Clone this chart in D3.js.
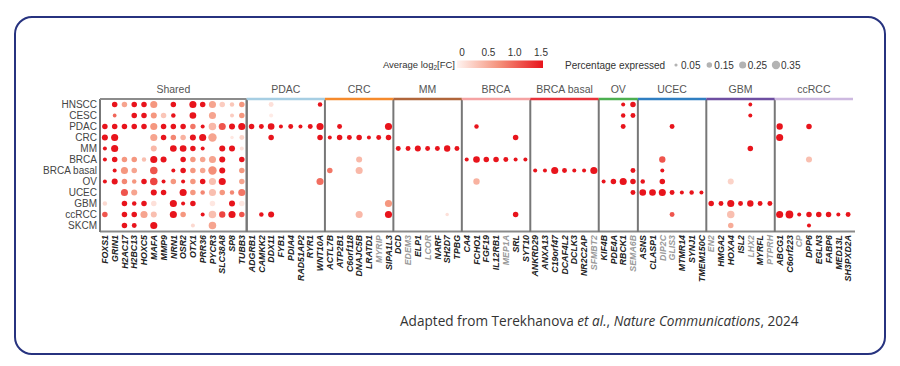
<!DOCTYPE html>
<html>
<head>
<meta charset="utf-8">
<script src="https://cdn.jsdelivr.net/npm/d3@7"></script>
<style>
  html,body{margin:0;padding:0;background:#fff;}
  svg{display:block;}
  text{font-family:"Liberation Sans",Arial,sans-serif;}
</style>
</head>
<body>
<svg id="chart" width="900" height="366"></svg>
<script>
// rows (tumour types), top to bottom
const rows = ['HNSCC','CESC','PDAC','CRC','MM','BRCA','BRCA basal','OV','UCEC','GBM','ccRCC','SKCM'];

// panels: name, genes, colour of the top bar
const panelNames  = ['Shared','PDAC','CRC','MM','BRCA','BRCA basal','OV','UCEC','GBM','ccRCC'];
const panelColors = ['#8c8c8c','#a6cee3','#f58a2c','#b0653a','#f5a3a3','#e8333b','#4caf50','#2f7ec1','#6e4ea1','#cdb9e0'];
const panelGenes = [
  ['FOXS1','GRIN1','H2AC17','H2BC13','HOXC5','MAFA','MMP9','NRN1','OSR2','OTX1','PRR36','PYCR3','SLC38A8','SP8','TUBB3'],
  ['ADGRB1','CAMKK2','DDX11','FYB1','PDIA4','RAD51AP2','RYR1','WNT10A'],
  ['ACTL7B','ATP2B1','C6orf118','DNAJC5B','LRATD1','MYRIP','SIPA1L3'],
  ['DCD','EDEM3','ELP1','LCOR','NARF','SH2D7','TPBG'],
  ['CA4','FCHO1','FGF19','IL12RB1','MEP1A','SRL','SYT10'],
  ['ANKRD29','ANXA13','C19orf47','DCAF4L2','DCLK3','NR2C2AP','SFMBT2'],
  ['KIF4B','PDE4A','RBCK1','SEMA6B'],
  ['ASNS','CLASP1','DIP2C','GLIS3','MTMR14','SYNJ1','TMEM150C'],
  ['EN2','HMGA2','HOXA4','ISL2','LHX2','MYRFL','PTPRH'],
  ['ABCG1','C6orf223','CP','DPP6','EGLN3','FABP6','MED13L','SH3PXD2A']
];
// genes printed in grey
const greyGenes = ['MYRIP','EDEM3','LCOR','MEP1A','SFMBT2','SEMA6B','DIP2C','GLIS3','EN2','LHX2','PTPRH','CP'];

// legend values
const fcTicks  = [0, 0.5, 1.0, 1.5];
const pctTicks = [0.05, 0.15, 0.25, 0.35];

// dots: [row, gene, percentage expressed, average log2FC]
const sharedDots = [
  ['HNSCC','GRIN1',.15,1.5],['HNSCC','H2AC17',.15,.6],['HNSCC','H2BC13',.15,1.5],['HNSCC','HOXC5',.15,1.5],
  ['HNSCC','MAFA',.25,.7],['HNSCC','NRN1',.15,1.5],['HNSCC','OTX1',.25,1.5],['HNSCC','PRR36',.15,1.5],
  ['HNSCC','PYCR3',.25,.6],['HNSCC','SLC38A8',.15,.3],['HNSCC','SP8',.1,.35],['HNSCC','TUBB3',.15,.7],
  ['CESC','GRIN1',.07,1.0],['CESC','H2BC13',.15,1.5],['CESC','HOXC5',.15,1.5],['CESC','MAFA',.18,.7],
  ['CESC','MMP9',.15,.35],['CESC','NRN1',.1,1.5],['CESC','OTX1',.22,1.5],['CESC','PYCR3',.25,.6],
  ['CESC','SP8',.08,.3],['CESC','TUBB3',.15,.7],
  ['PDAC','FOXS1',.15,1.5],['PDAC','GRIN1',.15,1.5],['PDAC','H2AC17',.15,1.5],['PDAC','H2BC13',.15,1.5],
  ['PDAC','HOXC5',.15,1.5],['PDAC','MAFA',.25,.7],['PDAC','MMP9',.15,1.5],['PDAC','NRN1',.15,1.5],
  ['PDAC','OSR2',.15,1.5],['PDAC','OTX1',.15,.9],['PDAC','PRR36',.08,1.5],['PDAC','PYCR3',.28,.45],
  ['PDAC','SLC38A8',.25,1.1],['PDAC','SP8',.18,1.5],['PDAC','TUBB3',.25,1.5],
  ['CRC','FOXS1',.18,1.5],['CRC','GRIN1',.25,1.5],['CRC','MAFA',.25,.6],['CRC','MMP9',.15,1.5],
  ['CRC','NRN1',.15,.8],['CRC','OSR2',.15,.5],['CRC','OTX1',.18,1.5],['CRC','PRR36',.25,1.5],
  ['CRC','PYCR3',.35,.6],['CRC','SP8',.06,.1],['CRC','TUBB3',.12,.25],
  ['MM','FOXS1',.08,1.5],['MM','GRIN1',.25,1.5],['MM','MAFA',.18,.45],['MM','NRN1',.22,1.5],
  ['MM','OSR2',.22,1.5],['MM','OTX1',.15,1.5],['MM','PRR36',.08,1.5],['MM','SLC38A8',.18,1.5],
  ['MM','SP8',.18,1.5],['MM','TUBB3',.08,.15],
  ['BRCA','FOXS1',.08,1.5],['BRCA','GRIN1',.15,1.5],['BRCA','H2AC17',.15,.7],['BRCA','H2BC13',.15,.7],
  ['BRCA','HOXC5',.1,.4],['BRCA','MAFA',.25,1.5],['BRCA','MMP9',.18,1.5],['BRCA','OSR2',.15,1.5],
  ['BRCA','OTX1',.15,.7],['BRCA','PRR36',.15,.6],['BRCA','PYCR3',.25,.6],['BRCA','SLC38A8',.18,1.5],
  ['BRCA','TUBB3',.15,1.5],
  ['BRCA basal','GRIN1',.08,1.5],['BRCA basal','H2AC17',.25,.7],['BRCA basal','H2BC13',.15,.6],
  ['BRCA basal','MAFA',.28,1.1],['BRCA basal','NRN1',.08,1.5],['BRCA basal','OSR2',.15,1.5],
  ['BRCA basal','OTX1',.15,.7],['BRCA basal','PRR36',.15,.6],['BRCA basal','PYCR3',.35,.75],
  ['BRCA basal','SLC38A8',.18,1.5],['BRCA basal','TUBB3',.15,.7],
  ['OV','FOXS1',.08,1.5],['OV','GRIN1',.18,1.5],['OV','H2AC17',.15,.8],['OV','H2BC13',.1,.7],
  ['OV','HOXC5',.15,1.5],['OV','MAFA',.28,1.2],['OV','MMP9',.08,1.5],['OV','NRN1',.15,.7],
  ['OV','OSR2',.08,1.5],['OV','OTX1',.15,.7],['OV','PRR36',.15,1.5],['OV','PYCR3',.25,.4],
  ['OV','SLC38A8',.25,1.5],['OV','TUBB3',.15,.6],
  ['UCEC','H2AC17',.25,1.1],['UCEC','H2BC13',.18,.6],['UCEC','MAFA',.18,1.5],['UCEC','MMP9',.15,1.5],
  ['UCEC','OSR2',.25,1.5],['UCEC','OTX1',.15,.7],['UCEC','PRR36',.1,.8],['UCEC','PYCR3',.25,.4],
  ['UCEC','SLC38A8',.15,.7],['UCEC','SP8',.1,.8],['UCEC','TUBB3',.25,.9],
  ['GBM','FOXS1',.1,.2],['GBM','H2AC17',.15,1.5],['GBM','H2BC13',.1,1.5],['GBM','HOXC5',.15,1.5],
  ['GBM','MAFA',.15,.15],['GBM','NRN1',.25,1.5],['GBM','OSR2',.08,1.5],['GBM','OTX1',.15,1.5],
  ['GBM','PYCR3',.15,.1],['GBM','SP8',.18,1.5],['GBM','TUBB3',.15,.1],
  ['ccRCC','FOXS1',.15,1.1],['ccRCC','H2AC17',.15,1.5],['ccRCC','H2BC13',.15,1.5],['ccRCC','HOXC5',.25,.6],
  ['ccRCC','MAFA',.18,.4],['ccRCC','NRN1',.25,1.5],['ccRCC','OSR2',.15,.7],['ccRCC','PRR36',.08,1.5],
  ['ccRCC','PYCR3',.28,.4],['ccRCC','SLC38A8',.2,1.2],['ccRCC','SP8',.25,1.5],['ccRCC','TUBB3',.15,1.1],
  ['SKCM','H2AC17',.15,1.5],['SKCM','H2BC13',.12,1.5],['SKCM','MAFA',.25,1.5],['SKCM','OTX1',.08,.2],
  ['SKCM','PYCR3',.28,.6]
];
const pdacDots = [
  ['HNSCC','DDX11',.12,.15],['HNSCC','WNT10A',.1,1.5],['CESC','DDX11',.08,.07],
  ['PDAC','ADGRB1',.15,1.5],['PDAC','CAMKK2',.12,1.5],['PDAC','DDX11',.22,1.5],['PDAC','FYB1',.08,1.5],
  ['PDAC','PDIA4',.12,1.5],['PDAC','RAD51AP2',.08,1.5],['PDAC','RYR1',.12,1.5],['PDAC','WNT10A',.25,1.5],
  ['CRC','DDX11',.15,1.5],['CRC','WNT10A',.15,1.5],['OV','WNT10A',.25,.95],
  ['ccRCC','CAMKK2',.1,1.5],['ccRCC','DDX11',.18,1.5]
];
const crcDots = [
  ['PDAC','ATP2B1',.12,1.5],['PDAC','SIPA1L3',.25,1.5],
  ['CRC','ACTL7B',.08,1.5],['CRC','ATP2B1',.15,1.5],['CRC','C6orf118',.12,1.5],['CRC','DNAJC5B',.15,1.5],
  ['CRC','LRATD1',.08,1.5],['CRC','MYRIP',.12,1.5],['CRC','SIPA1L3',.15,1.5],
  ['BRCA','DNAJC5B',.18,.45],['BRCA basal','ACTL7B',.15,.9],['BRCA basal','DNAJC5B',.25,.45],
  ['GBM','SIPA1L3',.25,.7],['ccRCC','DNAJC5B',.25,.45],['ccRCC','SIPA1L3',.25,1.5]
];
const mmDots = [
  ['MM','DCD',.12,1.5],['MM','EDEM3',.12,1.5],['MM','ELP1',.18,1.5],['MM','LCOR',.12,1.5],
  ['MM','NARF',.12,1.5],['MM','SH2D7',.2,1.5],['MM','TPBG',.12,1.5],['ccRCC','SH2D7',.06,.15]
];
const brcaDots = [
  ['PDAC','FCHO1',.1,1.5],['CRC','SRL',.15,1.5],
  ['BRCA','CA4',.08,1.5],['BRCA','FCHO1',.22,1.5],['BRCA','FGF19',.15,1.5],['BRCA','IL12RB1',.15,1.5],
  ['BRCA','MEP1A',.12,1.5],['BRCA','SRL',.08,1.5],['BRCA','SYT10',.08,1.5],
  ['OV','FCHO1',.2,.5],['ccRCC','SRL',.15,1.5]
];
const basalDots = [
  ['BRCA basal','ANKRD29',.08,1.5],['BRCA basal','ANXA13',.08,1.5],['BRCA basal','C19orf47',.25,1.5],
  ['BRCA basal','DCAF4L2',.12,1.5],['BRCA basal','DCLK3',.08,1.5],['BRCA basal','NR2C2AP',.08,1.5],
  ['BRCA basal','SFMBT2',.25,1.5]
];
const ovDots = [
  ['HNSCC','RBCK1',.08,1.5],['HNSCC','SEMA6B',.15,1.5],['CESC','RBCK1',.1,1.5],['CESC','SEMA6B',.12,1.5],
  ['PDAC','RBCK1',.12,1.5],['BRCA basal','SEMA6B',.12,1.5],
  ['OV','KIF4B',.08,1.5],['OV','PDE4A',.15,1.5],['OV','RBCK1',.25,1.5],['OV','SEMA6B',.15,1.5],
  ['UCEC','SEMA6B',.12,1.5]
];
const ucecDots = [
  ['PDAC','GLIS3',.12,1.5],['BRCA','DIP2C',.2,1.1],['BRCA basal','DIP2C',.08,1.5],
  ['OV','ASNS',.1,1.5],['OV','DIP2C',.15,1.5],
  ['UCEC','ASNS',.22,1.5],['UCEC','CLASP1',.22,1.5],['UCEC','DIP2C',.25,1.5],['UCEC','GLIS3',.12,1.5],
  ['UCEC','MTMR14',.08,1.5],['UCEC','SYNJ1',.1,1.5],['UCEC','TMEM150C',.08,1.5],
  ['ccRCC','GLIS3',.12,1.1]
];
const gbmDots = [
  ['HNSCC','LHX2',.07,1.5],['CESC','LHX2',.08,1.5],['MM','LHX2',.15,1.5],['OV','HOXA4',.18,.25],
  ['GBM','EN2',.15,1.5],['GBM','HMGA2',.12,1.5],['GBM','HOXA4',.25,1.5],['GBM','ISL2',.12,1.5],
  ['GBM','LHX2',.2,1.5],['GBM','MYRFL',.12,1.5],['GBM','PTPRH',.12,1.5],
  ['ccRCC','HOXA4',.28,.4],['SKCM','HOXA4',.15,.55]
];
const ccrccDots = [
  ['PDAC','ABCG1',.2,1.5],['PDAC','DPP6',.15,1.5],['CRC','ABCG1',.25,1.5],['BRCA','DPP6',.18,.4],
  ['ccRCC','ABCG1',.25,1.5],['ccRCC','C6orf223',.3,1.5],['ccRCC','CP',.08,1.5],['ccRCC','DPP6',.15,1.5],
  ['ccRCC','EGLN3',.15,1.5],['ccRCC','FABP6',.15,1.5],['ccRCC','MED13L',.08,1.5],['ccRCC','SH3PXD2A',.12,1.5],
  ['SKCM','DPP6',.08,1.5]
];

const allDots = [].concat(sharedDots,pdacDots,crcDots,mmDots,brcaDots,basalDots,ovDots,ucecDots,gbmDots,ccrccDots);
const allGenes = [].concat(...panelGenes);

const svg = d3.select('#chart');

// rounded frame
svg.append('rect').attr('x',15).attr('y',17).attr('width',870).attr('height',337)
  .attr('rx',17).attr('fill','#fff').attr('stroke','#27337f').attr('stroke-width',2);

const x = d3.scaleBand().domain(allGenes).range([100,853]);
const y = d3.scaleBand().domain(rows).range([99,231]);
const r = d3.scaleSqrt().domain([0,0.35]).range([0,4.2]);
const color = d3.scaleLinear().domain([0,0.7,1.5]).range(['#fff4f1','#f5977f','#e8141c']).clamp(true);

const g = svg.append('g');

// panels
const panels = panelGenes.map((genes,i)=>({
  name:panelNames[i], color:panelColors[i], idx:i,
  x0:x(genes[0]), x1:x(genes[genes.length-1])+x.bandwidth()
}));

// bottom line
g.append('line').attr('x1',100).attr('x2',855).attr('y1',231.5).attr('y2',231.5)
  .attr('stroke','#8a8a8a').attr('stroke-width',2);

// vertical separators
g.selectAll('line.sep').data(panels.map(p=>p.x0).concat([panels[0].x1])).enter()
  .append('line').attr('class','sep')
  .attr('x1',d=>d).attr('x2',d=>d).attr('y1',99).attr('y2',232)
  .attr('stroke','#777').attr('stroke-width',2);

// coloured top bars
g.selectAll('line.top').data(panels).enter()
  .append('line').attr('class','top')
  .attr('x1',d=>d.x0).attr('x2',d=>d.x1).attr('y1',99).attr('y2',99)
  .attr('stroke',d=>d.color).attr('stroke-width',d=>d.idx===0?2:2.5);

// panel titles
g.selectAll('text.ptitle').data(panels).enter()
  .append('text').attr('class','ptitle')
  .attr('x',d=>(d.x0+d.x1)/2).attr('y',93)
  .attr('text-anchor','middle').attr('font-size',10.5).attr('fill','#555')
  .text(d=>d.name);

// row labels
g.selectAll('text.row').data(rows).enter()
  .append('text').attr('class','row')
  .attr('x',97).attr('y',d=>y(d)+y.bandwidth()/2+3.5)
  .attr('text-anchor','end').attr('font-size',10).attr('fill','#444')
  .text(d=>d);

// gene labels
g.selectAll('text.gene').data(allGenes).enter()
  .append('text').attr('class','gene')
  .attr('transform',d=>`translate(${x(d)+x.bandwidth()/2+3.2},235) rotate(-90)`)
  .attr('text-anchor','end').attr('font-size',8.8).attr('font-weight','bold').attr('font-style','italic')
  .attr('fill',d=>greyGenes.includes(d)?'#9a9a9a':'#222')
  .text(d=>d);

// dots
g.selectAll('circle.dot').data(allDots).enter()
  .append('circle').attr('class','dot')
  .attr('cx',d=>x(d[1])+x.bandwidth()/2)
  .attr('cy',d=>y(d[0])+y.bandwidth()/2)
  .attr('r',d=>r(d[2]))
  .attr('fill',d=>color(d[3]));

// colour legend
const defs = svg.append('defs');
const grad = defs.append('linearGradient').attr('id','fcgrad');
d3.range(0,1.01,0.25).forEach(t=>{
  grad.append('stop').attr('offset',t).attr('stop-color',color(t*1.5));
});
const lx = d3.scaleLinear().domain([0,1.5]).range([462,541]);
svg.append('rect').attr('x',457).attr('y',60.5).attr('width',86).attr('height',7.5).attr('fill','url(#fcgrad)');
svg.selectAll('text.fctick').data(fcTicks).enter()
  .append('text').attr('class','fctick')
  .attr('x',d=>lx(d)).attr('y',56).attr('text-anchor','middle')
  .attr('font-size',10).attr('fill','#333')
  .text(d=>d===0?'0':d.toFixed(1));
const lt = svg.append('text').attr('x',455).attr('y',67.5).attr('text-anchor','end')
  .attr('font-size',9.5).attr('fill','#333');
lt.append('tspan').text('Average log');
lt.append('tspan').attr('font-size',6.5).attr('dy',2).text('2');
lt.append('tspan').attr('dy',-2).text('[FC]');

// size legend
svg.append('text').attr('x',565).attr('y',68.5).attr('font-size',10).attr('fill','#333').text('Percentage expressed');
const sx = d3.scalePoint().domain(pctTicks).range([676,776]);
svg.selectAll('circle.sz').data(pctTicks).enter()
  .append('circle').attr('class','sz')
  .attr('cx',d=>sx(d)).attr('cy',65).attr('r',d=>r(d)).attr('fill','#b3b3b3');
svg.selectAll('text.sz').data(pctTicks).enter()
  .append('text').attr('class','sz')
  .attr('x',d=>sx(d)+5).attr('y',68.5).attr('font-size',10).attr('fill','#333')
  .text(d=>d.toFixed(2));

// caption
const cap = svg.append('text').attr('x',400).attr('y',326)
  .attr('font-size',13.6).attr('fill','#333').style('font-family','"Open Sans",sans-serif');
cap.append('tspan').text('Adapted from Terekhanova ');
cap.append('tspan').attr('font-style','italic').text('et al.');
cap.append('tspan').text(', ');
cap.append('tspan').attr('font-style','italic').text('Nature Communications');
cap.append('tspan').text(', 2024');
</script>
</body>
</html>
